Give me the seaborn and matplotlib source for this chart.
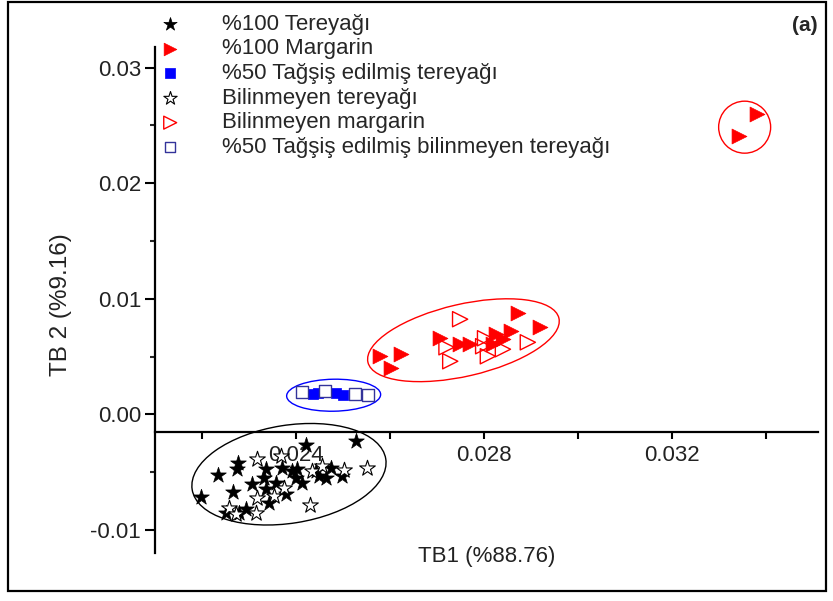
import numpy as np
import pandas as pd
import matplotlib
matplotlib.use("Agg")
import matplotlib.pyplot as plt
import matplotlib.transforms as transforms
from matplotlib.patches import Ellipse, Rectangle
from matplotlib.ticker import MultipleLocator, FixedLocator, FormatStrFormatter
import seaborn as sns

# --- Data (TB1, TB2 scores) ---
butter_x = [0.02421, 0.02527, 0.02235, 0.02199, 0.02277, 0.02275, 0.02265, 0.02307,
            0.02337, 0.02332, 0.02358, 0.02370, 0.02392, 0.02402, 0.02400, 0.02413,
            0.02379, 0.02343, 0.02337, 0.02252, 0.02294, 0.02279, 0.02449, 0.02463,
            0.02474, 0.02497, 0.02442]
butter_y = [-0.00268, -0.00234, -0.00528, -0.00719, -0.00424, -0.00476, -0.00675, -0.00606,
            -0.00476, -0.00554, -0.00597, -0.00468, -0.00494, -0.00476, -0.00554, -0.00597,
            -0.00693, -0.00771, -0.00649, -0.00857, -0.00823, -0.00857, -0.00537, -0.00554,
            -0.00468, -0.00537, -0.00494]

unk_butter_x = [0.02317, 0.02368, 0.02434, 0.02455, 0.02502, 0.02550, 0.02430,
                0.02317, 0.02353, 0.02258, 0.02273, 0.02315, 0.02375]
unk_butter_y = [-0.00390, -0.00364, -0.00494, -0.00450, -0.00485, -0.00468, -0.00788,
                -0.00727, -0.00710, -0.00814, -0.00866, -0.00857, -0.00641]

adult_x = [0.02436, 0.02447, 0.02485, 0.02499]
adult_y = [0.00173, 0.00182, 0.00182, 0.00165]

unk_adult_x = [0.02413, 0.02461, 0.02525, 0.02554]
unk_adult_y = [0.00190, 0.00199, 0.00173, 0.00165]

marg_x = [0.02578, 0.02624, 0.02601, 0.02707, 0.02749, 0.02770, 0.02825, 0.02840,
          0.02857, 0.02819, 0.02872, 0.02919, 0.03342, 0.03380]
marg_y = [0.00502, 0.00519, 0.00398, 0.00658, 0.00606, 0.00606, 0.00693, 0.00649,
          0.00719, 0.00606, 0.00874, 0.00753, 0.02407, 0.02597]

unk_marg_x = [0.02749, 0.02720, 0.02728, 0.02802, 0.02798, 0.02808, 0.02840, 0.02893]
unk_marg_y = [0.00823, 0.00580, 0.00459, 0.00658, 0.00589, 0.00502, 0.00563, 0.00623]

labels = ["%100 Tereyağı", "%100 Margarin", "%50 Tağşiş edilmiş tereyağı",
          "Bilinmeyen tereyağı", "Bilinmeyen margarin",
          "%50 Tağşiş edilmiş bilinmeyen tereyağı"]

# group ellipses: centre (data), width / height (inches), angle (deg), colour
ellipse_cx = [0.02385, 0.02480, 0.02756, 0.03354]
ellipse_cy = [-0.00519, 0.00165, 0.00641, 0.02485]
ellipse_w = [1.96, 0.94, 1.96, 0.52]
ellipse_h = [0.98, 0.32, 0.72, 0.52]
ellipse_angle = [9, 1, 13, 0]
ellipse_color = ['black', '#0000ff', '#ff0000', '#ff0000']

sns.set_theme(style="white")
plt.rcParams['font.family'] = ['Liberation Sans', 'DejaVu Sans']

fig = plt.figure(figsize=(8.33, 6.01), dpi=100)
ax = fig.add_axes([0.186, 0.080, 0.796, 0.842])

# filled groups
sns.scatterplot(x=butter_x, y=butter_y, ax=ax, marker='*', s=140, color='black',
                edgecolor='black', linewidth=0.5, label=labels[0], zorder=3)
sns.scatterplot(x=marg_x, y=marg_y, ax=ax, marker='>', s=115,
                color='#ff0000', edgecolor='#ff0000', linewidth=0.5, label=labels[1], zorder=3)
sns.scatterplot(x=adult_x, y=adult_y, ax=ax, marker='s', s=60, color='#0000ff',
                edgecolor='#0000ff', linewidth=0.5, label=labels[2], zorder=3)
# open groups
sns.scatterplot(x=unk_butter_x, y=unk_butter_y, ax=ax, marker='*', s=140, color='white',
                edgecolor='black', linewidth=0.8, label=labels[3], zorder=4)
sns.scatterplot(x=unk_marg_x, y=unk_marg_y, ax=ax, marker='>', s=120, color='none',
                edgecolor='#ff0000', linewidth=1.0, label=labels[4], zorder=4)
sns.scatterplot(x=unk_adult_x, y=unk_adult_y, ax=ax, marker='s', s=70, color='white',
                edgecolor='#33339a', linewidth=1.0, label=labels[5], zorder=4)

for cx, cy, w, h, ang, col in zip(ellipse_cx, ellipse_cy, ellipse_w, ellipse_h,
                                  ellipse_angle, ellipse_color):
    tr = fig.dpi_scale_trans + transforms.ScaledTranslation(cx, cy, ax.transData)
    ax.add_patch(Ellipse((0, 0), w, h, angle=ang, facecolor='none', edgecolor=col,
                         linewidth=1.0, transform=tr, zorder=2))

# axes styling (Origin-like: x axis crossing at y = -0.0015)
ax.set_xlim(0.0210, 0.0351)
ax.set_ylim(-0.0120, 0.0318)
ax.spines['top'].set_visible(False)
ax.spines['right'].set_visible(False)
ax.spines['bottom'].set_position(('data', -0.0015))
for side in ['left', 'bottom']:
    ax.spines[side].set_color('black')
    ax.spines[side].set_linewidth(1.6)

ax.xaxis.set_major_locator(FixedLocator([0.024, 0.028, 0.032]))
ax.xaxis.set_minor_locator(FixedLocator([0.022, 0.026, 0.030, 0.034]))
ax.yaxis.set_major_locator(MultipleLocator(0.01))
ax.yaxis.set_minor_locator(MultipleLocator(0.005))
ax.xaxis.set_major_formatter(FormatStrFormatter('%.3f'))
ax.yaxis.set_major_formatter(FormatStrFormatter('%.2f'))

ax.tick_params(axis='x', which='both', direction='out', bottom=True, length=5, width=1.5,
               labelsize=16, pad=5, colors='black')
ax.tick_params(axis='y', which='major', direction='out', left=True, length=7, width=1.5,
               labelsize=16, pad=3, colors='black')
ax.tick_params(axis='y', which='minor', direction='out', left=True, length=3.5, width=1.5)
for t in ax.get_xticklabels() + ax.get_yticklabels():
    t.set_color('#222222')

ax.set_xlabel('TB1 (%88.76)', fontsize=16, color='#222222')
ax.set_ylabel('TB 2 (%9.16)', fontsize=17.5, color='#222222')
ax.xaxis.set_label_coords(0.5, 0.014)
ax.yaxis.set_label_coords(-0.125, 0.49)

handles, lbls = ax.get_legend_handles_labels()
order = [lbls.index(l) for l in labels]
ax.legend([handles[i] for i in order], [lbls[i] for i in order], loc='upper left',
          bbox_to_anchor=(0.191, 0.977), bbox_transform=fig.transFigure, frameon=False,
          fontsize=16, handlelength=1.0, handletextpad=1.84, labelspacing=0.165,
          borderpad=0, borderaxespad=0, markerscale=0.85)

fig.text(0.966, 0.958, '(a)', fontsize=15, fontweight='bold', ha='center', va='center')

# outer frame
fig.patches.append(Rectangle((8 / 833, 1 - 591 / 601), (826 - 8) / 833, (591 - 2) / 601,
                             transform=fig.transFigure, fill=False, edgecolor='black',
                             linewidth=1.6))

fig.savefig('out.png', dpi=100)
